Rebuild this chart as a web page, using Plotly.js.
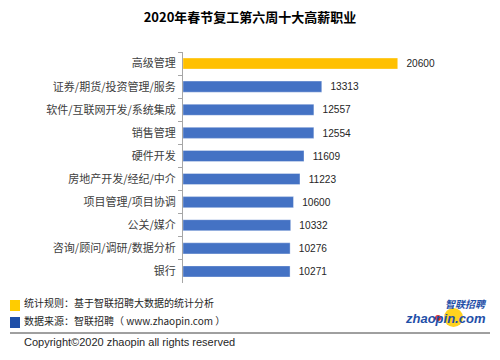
<!DOCTYPE html>
<html>
<head>
<meta charset="utf-8">
<script src="https://cdn.plot.ly/plotly-3.0.1.min.js"></script>
<style>html,body{margin:0;padding:0;background:#fff;}#chart{width:500px;height:360px;}</style>
</head>
<body>
<div id="chart"></div>
<script>
const categories = ["高级管理","证券/期货/投资管理/服务","软件/互联网开发/系统集成","销售管理","硬件开发","房地产开发/经纪/中介","项目管理/项目协调","公关/媒介","咨询/顾问/调研/数据分析","银行"];
const salaries = [20600,13313,12557,12554,11609,11223,10600,10332,10276,10271];
const barColors = ["#FFC000","#4472C4","#4472C4","#4472C4","#4472C4","#4472C4","#4472C4","#4472C4","#4472C4","#4472C4"];
const titleText = "2020年春节复工第六周十大高薪职业";
const noteRule = "统计规则：基于智联招聘大数据的统计分析";
const noteSource = "数据来源：智联招聘（ www.zhaopin.com ）";
const copyrightText = "Copyright©2020 zhaopin all rights reserved";

const CJK = '"Noto Sans CJK SC", "Noto Sans", sans-serif';
const W = 500, H = 360;
const M = {l: 183, r: 46, t: 52, b: 77};
const PW = W - M.l - M.r, PH = H - M.t - M.b;
const px = x => (x - M.l) / PW;
const py = y => (H - M.b - y) / PH;

const trace = {
  type: "bar",
  orientation: "h",
  y: categories,
  x: salaries,
  width: 0.48,
  marker: {color: barColors, line: {color: "rgba(255,255,255,0.35)", width: 1}},
  text: salaries.map(v => "  " + v),
  textposition: "outside",
  cliponaxis: false,
  textfont: {family: '"Liberation Sans", sans-serif', size: 11, color: "#262626"},
  hoverinfo: "skip"
};

const layout = {
  width: W, height: H,
  margin: M,
  paper_bgcolor: "#fff", plot_bgcolor: "#fff",
  showlegend: false,
  title: {text: titleText, x: 0.5, xanchor: "center", y: 1 - 17 / H, yanchor: "middle",
          font: {family: CJK, size: 13, color: "#000", weight: "bold"}},
  xaxis: {range: [0, 26000], visible: false, fixedrange: true},
  yaxis: {type: "category", autorange: "reversed", showline: true, linecolor: "#A6A6A6", linewidth: 1,
          ticks: "outside", tickson: "boundaries", ticklen: 4, tickcolor: "#A6A6A6",
          showgrid: false, zeroline: false, ticklabelstandoff: 4,
          tickfont: {family: CJK, size: 11, color: "#404040"}},
  shapes: [
    {type: "rect", xref: "paper", yref: "paper", x0: px(10), x1: px(20), y0: py(311), y1: py(300), fillcolor: "#FFCC00", line: {width: 0}},
    {type: "rect", xref: "paper", yref: "paper", x0: px(10), x1: px(20), y0: py(328), y1: py(317), fillcolor: "#1F4FA8", line: {width: 0}},
    {type: "line", xref: "paper", yref: "paper", x0: px(10), x1: px(490), y0: py(333), y1: py(333), line: {color: "#404040", width: 1}},
    {type: "circle", xref: "paper", yref: "paper", x0: px(444), x1: px(463), y0: py(327), y1: py(308), fillcolor: "#FFD21F", line: {width: 0}},
    {type: "circle", xref: "paper", yref: "paper", x0: px(435), x1: px(441), y0: py(321), y1: py(315), fillcolor: "#D9342B", line: {width: 0}}
  ],
  annotations: [
    {xref: "paper", yref: "paper", x: px(22), y: py(302), xanchor: "left", yanchor: "middle", showarrow: false,
     text: noteRule, font: {family: CJK, size: 10, color: "#262626"}},
    {xref: "paper", yref: "paper", x: px(22), y: py(320), xanchor: "left", yanchor: "middle", showarrow: false,
     text: noteSource, font: {family: CJK, size: 10, color: "#262626"}},
    {xref: "paper", yref: "paper", x: px(22), y: py(342), xanchor: "left", yanchor: "middle", showarrow: false,
     text: copyrightText, font: {family: '"Liberation Sans", sans-serif', size: 11, color: "#262626"}},
    {xref: "paper", yref: "paper", x: px(489), y: py(303), xanchor: "right", yanchor: "middle", showarrow: false,
     text: "<i><b>智联招聘</b></i>", font: {family: CJK, size: 10, color: "#1F4FA8"}},
    {xref: "paper", yref: "paper", x: px(488), y: py(318), xanchor: "right", yanchor: "middle", showarrow: false,
     text: "<i><b>zhaopin.com</b></i>", font: {family: '"Liberation Sans", sans-serif', size: 13, color: "#1F4FA8"}}
  ]
};

Plotly.newPlot("chart", [trace], layout, {displayModeBar: false, staticPlot: true});
</script>
</body>
</html>
